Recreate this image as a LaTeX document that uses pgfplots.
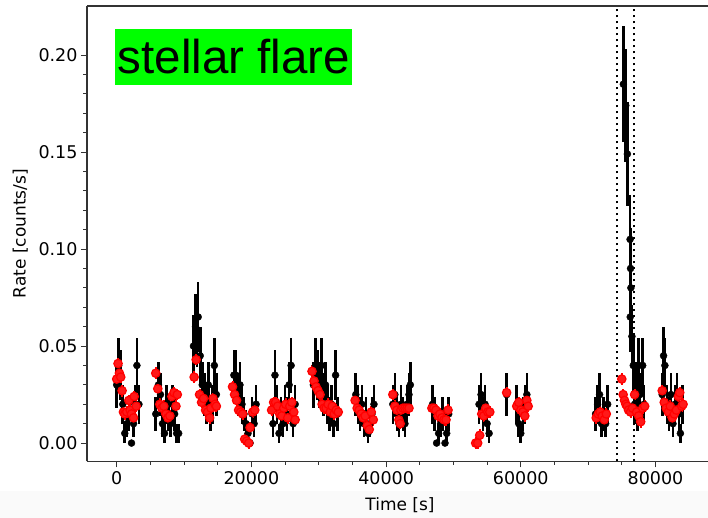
\documentclass[border=0pt]{standalone}
\usepackage{pgfplots}
\pgfplotsset{compat=1.18}
\usepackage{pgfplotstable}
\usepackage{fontspec}
\setmainfont{DejaVu Sans}
\newfontfamily\arialfont{Liberation Sans}

\pgfplotstableread{
x y e
0 0.030 0.012
300 0.040 0.014
600 0.035 0.013
900 0.020 0.010
1200 0.005 0.005
1500 0.010 0.007
1800 0.015 0.009
2200 0.000 0.000
2500 0.010 0.007
2700 0.020 0.010
3000 0.040 0.014
3300 0.020 0.010
5800 0.015 0.009
6200 0.030 0.012
6500 0.025 0.011
6800 0.010 0.007
7100 0.005 0.005
7400 0.020 0.010
7700 0.015 0.009
8000 0.010 0.007
8300 0.020 0.010
8600 0.015 0.009
8900 0.005 0.005
9200 0.005 0.005
11400 0.050 0.016
11700 0.060 0.017
11900 0.055 0.016
12100 0.065 0.018
12400 0.045 0.015
12700 0.030 0.012
13000 0.025 0.011
13300 0.020 0.010
13600 0.030 0.012
13900 0.015 0.009
14200 0.020 0.010
14500 0.040 0.014
14800 0.025 0.011
17400 0.035 0.013
17700 0.035 0.013
18000 0.025 0.011
18300 0.030 0.012
18600 0.020 0.010
18900 0.015 0.009
19200 0.010 0.007
19500 0.005 0.005
19800 0.000 0.000
20100 0.015 0.009
20400 0.010 0.007
20700 0.020 0.010
23200 0.010 0.007
23500 0.035 0.013
23800 0.020 0.010
24100 0.005 0.005
24400 0.015 0.009
24700 0.010 0.007
25000 0.020 0.010
25300 0.015 0.009
25600 0.030 0.012
25900 0.040 0.014
26200 0.010 0.007
26500 0.020 0.010
29200 0.030 0.012
29500 0.040 0.014
29800 0.035 0.013
30100 0.030 0.012
30400 0.040 0.014
30700 0.025 0.011
31000 0.030 0.012
31300 0.020 0.010
31600 0.015 0.009
31900 0.020 0.010
32200 0.010 0.007
32500 0.035 0.013
32800 0.015 0.009
35500 0.025 0.011
35800 0.020 0.010
36100 0.015 0.009
36400 0.020 0.010
36700 0.010 0.007
37000 0.015 0.009
37300 0.005 0.005
37600 0.010 0.007
37900 0.015 0.009
38200 0.020 0.010
41000 0.020 0.010
41300 0.025 0.011
41600 0.015 0.009
41900 0.010 0.007
42200 0.020 0.010
42500 0.015 0.009
42800 0.010 0.007
43100 0.020 0.010
43400 0.025 0.011
43600 0.030 0.012
46900 0.020 0.010
47200 0.015 0.009
47500 0.000 0.000
47800 0.005 0.005
48100 0.010 0.007
48400 0.015 0.009
48750 0.000 0.000
49000 0.005 0.005
49300 0.015 0.009
53800 0.020 0.010
54100 0.025 0.011
54400 0.015 0.009
54700 0.020 0.010
55000 0.010 0.007
55300 0.005 0.005
57900 0.025 0.011
59400 0.020 0.010
59700 0.010 0.007
60000 0.005 0.005
60300 0.015 0.009
60600 0.020 0.010
60900 0.025 0.011
71100 0.015 0.009
71400 0.020 0.010
71700 0.025 0.011
72000 0.010 0.007
72300 0.015 0.009
72600 0.010 0.007
72900 0.020 0.010
75230 0.185 0.030
75590 0.174 0.029
75830 0.149 0.027
76230 0.105 0.023
76300 0.090 0.021
76350 0.080 0.020
76250 0.065 0.018
76500 0.055 0.016
76700 0.040 0.014
76900 0.020 0.010
77100 0.030 0.012
77300 0.015 0.009
77500 0.040 0.014
77700 0.025 0.011
78100 0.040 0.014
78300 0.020 0.010
81000 0.025 0.011
81200 0.045 0.015
81400 0.040 0.014
81700 0.020 0.010
82000 0.015 0.009
82300 0.025 0.011
82600 0.010 0.007
82900 0.020 0.010
83200 0.025 0.011
83500 0.015 0.009
83700 0.005 0.005
84000 0.020 0.010
}\blackdata

\pgfplotstableread{
x y
0 0.033
200 0.041
400 0.036
600 0.034
800 0.027
1000 0.016
1200 0.015
1500 0.016
1800 0.022
2000 0.017
2200 0.015
2500 0.013
2600 0.024
2900 0.019
5800 0.036
6100 0.028
6400 0.020
6700 0.018
7000 0.019
7300 0.015
7600 0.013
7900 0.014
8200 0.024
8500 0.026
8800 0.019
9000 0.025
11500 0.034
11800 0.043
12300 0.025
12600 0.021
12900 0.023
13200 0.017
13500 0.016
13800 0.013
14000 0.018
14300 0.023
14600 0.020
14800 0.019
17200 0.029
17500 0.025
17800 0.022
18100 0.017
18400 0.016
18700 0.015
19000 0.002
19300 0.001
19600 0.000
19800 0.008
20200 0.016
20500 0.017
23000 0.017
23300 0.021
23600 0.021
23900 0.019
24200 0.015
24500 0.014
24800 0.018
25100 0.020
25400 0.013
25700 0.019
26000 0.021
26300 0.016
26500 0.012
29000 0.037
29300 0.032
29600 0.029
29900 0.027
30200 0.025
30500 0.020
30800 0.018
31100 0.018
31400 0.020
31700 0.016
32000 0.019
32300 0.015
32600 0.017
32900 0.016
35400 0.022
35700 0.018
36000 0.017
36300 0.015
36600 0.013
36900 0.014
37200 0.009
37500 0.007
37800 0.016
38100 0.012
41000 0.025
41300 0.019
41600 0.017
41900 0.012
42100 0.010
42200 0.017
42500 0.018
42800 0.018
43100 0.018
43400 0.018
46800 0.018
47100 0.018
47400 0.017
47700 0.014
48000 0.015
48300 0.013
48600 0.012
48900 0.012
49200 0.017
53300 0.000
53600 0.000
53900 0.004
54200 0.015
54500 0.014
54800 0.018
55100 0.016
55400 0.016
57900 0.026
59400 0.019
59700 0.021
60000 0.017
60300 0.016
60600 0.014
60900 0.022
61100 0.019
71200 0.013
71500 0.015
71800 0.016
72100 0.014
72400 0.012
72700 0.015
75000 0.033
75200 0.025
75400 0.022
75600 0.020
75800 0.019
76000 0.017
76300 0.016
76600 0.018
76900 0.025
77200 0.016
77500 0.014
77800 0.011
78100 0.018
78400 0.019
81000 0.027
81300 0.021
81600 0.018
81900 0.016
82200 0.019
82500 0.013
82800 0.015
83100 0.017
83400 0.024
83600 0.026
83900 0.019
84100 0.020
}\reddata

\begin{document}
\begin{tikzpicture}
\fill[black!2] (-87pt,-56.5pt) rectangle (621pt,-30pt);
\begin{axis}[
  at={(0,0)}, anchor=south west,
  scale only axis, width=621pt, height=455.5pt,
  xmin=-4410, xmax=87800, ymin=-0.0095, ymax=0.2253,
  axis x line*=bottom, axis y line*=left,
  axis line style={black!80, line width=1.1pt},
  tick align=outside,
  tick style={black!80, line width=1pt},
  major tick length=6pt, minor tick length=3.5pt,
  xtick={0,20000,40000,60000,80000}, minor x tick num=3,
  ytick={0,0.05,0.10,0.15,0.20}, minor y tick num=4,
  scaled x ticks=false, scaled y ticks=false,
  xticklabel style={/pgf/number format/set thousands separator={}},
  yticklabel style={/pgf/number format/fixed, /pgf/number format/fixed zerofill, /pgf/number format/precision=2},
  /pgf/number format/assume math mode=true,
  tick label style={font=\fontsize{17.5}{20}\selectfont},
  label style={font=\fontsize{17}{20}\selectfont},
  xlabel={Time [s]}, ylabel={Rate [counts/s]},
  xlabel style={at={(axis description cs:0.504,-0.1065)}, anchor=base},
  ylabel style={at={(axis description cs:-0.099,0.5)}, anchor=base},
  clip=false,
]
\addplot[only marks, mark=*, mark size=3.5pt, black,
  error bars/.cd, y dir=both, y explicit,
  error bar style={line width=2.6pt, black}, error mark=none]
  table[x=x, y=y, y error=e] {\blackdata};
\addplot[only marks, mark=*, mark size=4.2pt, red, mark options={fill=red!90, draw=red, line width=1.2pt},
  error bars/.cd, y dir=both, y fixed=0.003,
  error bar style={line width=2pt, red}, error mark=none]
  table[x=x, y=y] {\reddata};
\addplot[black, line width=2.2pt, dash pattern=on 2.2pt off 3.8pt] coordinates {(74330,-0.0095) (74330,0.2253)};
\addplot[black, line width=2.2pt, dash pattern=on 2.2pt off 3.8pt] coordinates {(76770,-0.0095) (76770,0.2253)};
\draw[black!80, line width=1.1pt] (rel axis cs:0,1) -- (rel axis cs:1.02,1);
\node[fill={rgb,255:red,0;green,255;blue,0}, anchor=north west, minimum width=237pt, minimum height=56pt, inner sep=0pt] at (axis cs:-250,0.2137) {};
\node[anchor=base west, inner sep=0pt, font=\arialfont\fontsize{47.5}{52}\selectfont] at (axis cs:120,0.1904) {stellar flare};
\end{axis}
\pgfresetboundingbox
\path[use as bounding box] (-87pt,-56.5pt) rectangle (621pt,461.5pt);
\end{tikzpicture}
\end{document}
